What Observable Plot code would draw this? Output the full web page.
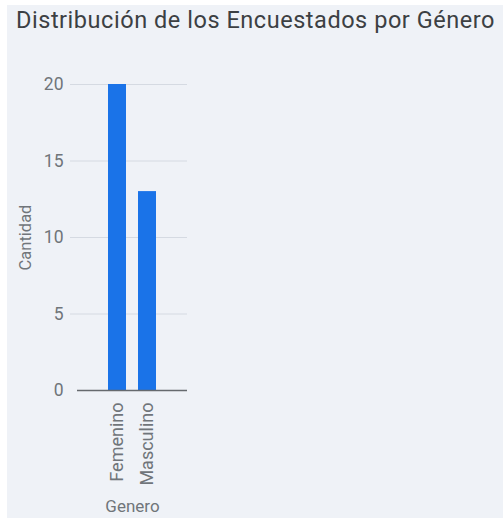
<!DOCTYPE html>
<html>
<head>
<meta charset="utf-8">
<script src="https://cdn.jsdelivr.net/npm/d3@7"></script>
<script src="https://cdn.jsdelivr.net/npm/@observablehq/plot@0.6"></script>
<style>
  html, body { margin: 0; padding: 0; background: #ffffff; }
  body { width: 503px; height: 518px; position: relative; overflow: hidden; font-family: Roboto, "Noto Sans", sans-serif; }
  #panel { position: absolute; left: 7px; top: 5px; width: 496px; height: 513px; background: #eff2f7; }
  #title { position: absolute; left: 16px; top: 6px; font-size: 23.5px; color: #3c4043; white-space: nowrap; font-family: Roboto, sans-serif; }
  #chart { position: absolute; left: 0; top: 0; }
</style>
</head>
<body>
<div id="panel"></div>
<div id="title">Distribución de los Encuestados por Género</div>
<div id="chart"></div>
<script>
const categories = ["Femenino", "Masculino"];
const counts = [20, 13];
const yTicks = [0, 5, 10, 15, 20];
const gridTicks = [5, 10, 15, 20];

const data = categories.map((c, i) => ({genero: c, cantidad: counts[i]}));

// fit title width to reference span (~479px)
const t = document.getElementById("title");
const w = t.getBoundingClientRect().width;
const n = t.textContent.length;
t.style.letterSpacing = ((479 - w) / n) + "px";

const chart = Plot.plot({
  width: 503,
  height: 518,
  marginLeft: 77,
  marginRight: 316,
  marginTop: 84,
  marginBottom: 128,
  style: {background: "transparent", fontFamily: "Roboto, sans-serif", color: "#70757a"},
  x: {domain: categories, paddingInner: 0.4, paddingOuter: 1.0},
  y: {domain: [0, 20]},
  marks: [
    Plot.gridY(gridTicks, {stroke: "#d5dae2", strokeOpacity: 1}),
    Plot.axisY({ticks: gridTicks, tickSize: 7, stroke: "#d5dae2", strokeOpacity: 1, text: null, label: null}),
    Plot.axisY({ticks: yTicks, tickSize: 0, tickPadding: 14, fontSize: 17.5, fill: "#70757a",
      label: null}),
    Plot.text(["Cantidad"], {frameAnchor: "left", textAnchor: "middle", dx: -52, rotate: -90, fontSize: 16.5, fill: "#70757a"}),
    Plot.barY(data, {x: "genero", y: "cantidad", fill: "#1a73e8"}),
    Plot.ruleY([0], {stroke: "#666a6e", strokeWidth: 1.5}),
    Plot.axisX({tickSize: 0, tickRotate: -90, tickPadding: 12, fontSize: 18, fill: "#70757a", label: null}),
    Plot.text(["Genero"], {frameAnchor: "bottom", dy: 121, fontSize: 17, fill: "#70757a"})
  ]
});
document.getElementById("chart").appendChild(chart);
</script>
</body>
</html>
